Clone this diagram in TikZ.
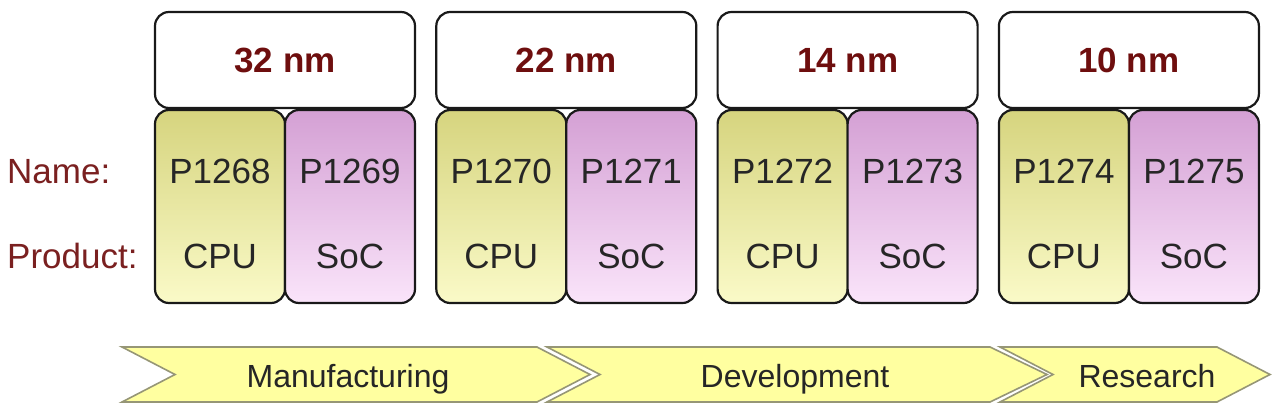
\documentclass[tikz,border=0pt]{standalone}
\usepackage{fontspec}
\setmainfont{Liberation Sans}
\usetikzlibrary{positioning}

\definecolor{nmred}{RGB}{110,14,14}
\definecolor{labred}{RGB}{122,32,32}
\definecolor{cputop}{RGB}{214,212,126}
\definecolor{cpubot}{RGB}{250,250,200}
\definecolor{soctop}{RGB}{212,160,212}
\definecolor{socbot}{RGB}{250,228,250}
\definecolor{chevfill}{RGB}{255,255,160}
\definecolor{chevline}{RGB}{150,150,118}

\begin{document}
\begin{tikzpicture}[x=1pt,y=-1pt,
  nodebox/.style={draw=black!90,line width=2.2pt,rounded corners=14pt},
  headbox/.style={nodebox,fill=white,minimum width=260pt,minimum height=96pt,
    font=\fontsize{35}{40}\selectfont\bfseries,text=nmred},
  cpubox/.style={nodebox,top color=cputop,bottom color=cpubot,
    minimum width=130pt,minimum height=193pt},
  socbox/.style={nodebox,top color=soctop,bottom color=socbot,
    minimum width=130pt,minimum height=193pt},
  celltext/.style={font=\fontsize{35}{40}\selectfont,text=black!85,anchor=base},
  rowlabel/.style={font=\fontsize{35}{40}\selectfont,text=labred,anchor=base west,inner sep=0pt},
  chev/.style={fill=chevfill,draw=chevline,line width=1.6pt},
  chevtext/.style={font=\fontsize{32}{38}\selectfont,text=black!85,anchor=base}
]
\useasboundingbox (0,0) rectangle (1280,417);

\coordinate (namerow) at (0,183);
\coordinate (prodrow) at (0,268);
\node[rowlabel] (namelbl) at (7,183) {Name:};
\node[rowlabel] (prodlbl) at (7,268) {Product:};

\foreach \nm/\a/\b [count=\i from 0] in {32/1268/1269, 22/1270/1271, 14/1272/1273, 10/1274/1275}{
  \node[headbox] (head\i) at ({285+281.3*\i},60) {\nm\ nm};
  \node[cpubox] (cpu\i) at ({220+281.3*\i},206.5) {};
  \node[socbox] (soc\i) at ({350+281.3*\i},206.5) {};
  \node[celltext] (cpuname\i) at (cpu\i |- namerow) {P\a};
  \node[celltext] (socname\i) at (soc\i |- namerow) {P\b};
  \node[celltext] (cpuprod\i) at (cpu\i |- prodrow) {CPU};
  \node[celltext] (socprod\i) at (soc\i |- prodrow) {SoC};
}

% phases
\draw[chev] (122,347) -- (537,347) -- (590,374.5) -- (537,402) -- (122,402) -- (175,374.5) -- cycle;
\draw[chev] (547,347) -- (990,347) -- (1047,374.5) -- (990,402) -- (547,402) -- (600,374.5) -- cycle;
\draw[chev] (1000,347) -- (1217,347) -- (1270,374.5) -- (1217,402) -- (1000,402) -- (1053,374.5) -- cycle;
\node[chevtext] (manuf) at (348,387) {Manufacturing};
\node[chevtext] (devel) at (795,387) {Development};
\node[chevtext] (resrch) at (1147,387) {Research};
\end{tikzpicture}
\end{document}
